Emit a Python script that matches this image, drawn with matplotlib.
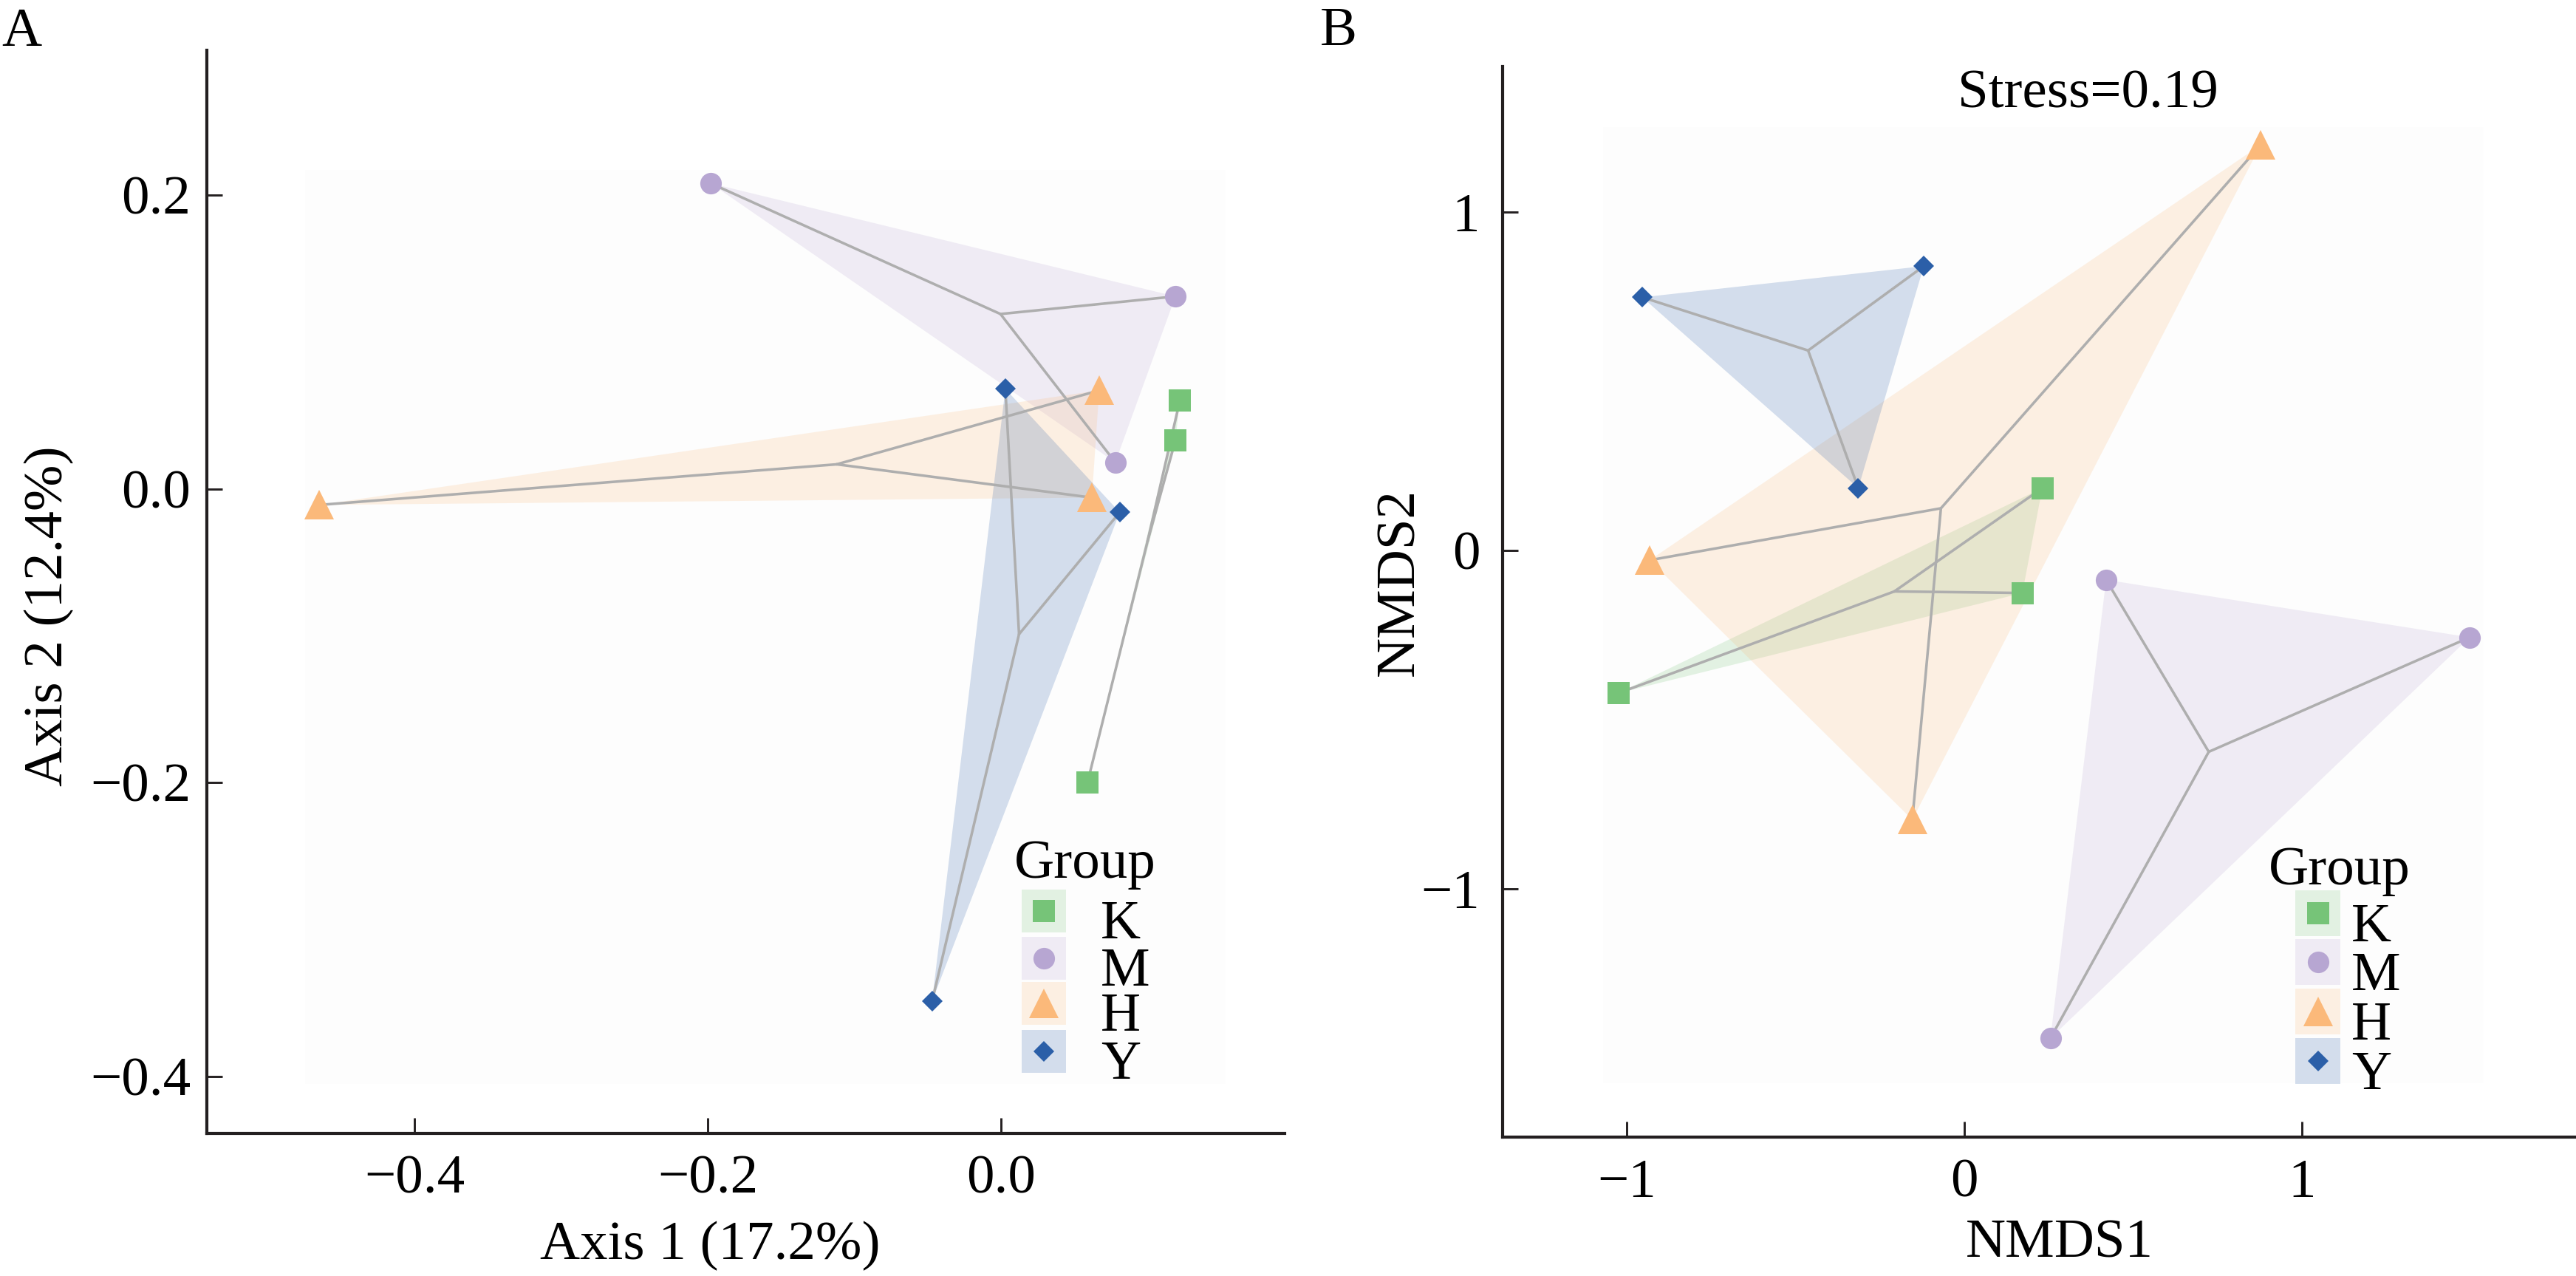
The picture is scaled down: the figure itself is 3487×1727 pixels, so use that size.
import numpy as np
import matplotlib
matplotlib.use('Agg')
import matplotlib.pyplot as plt
from matplotlib.lines import Line2D
from matplotlib.patches import Rectangle
from matplotlib.ticker import FuncFormatter

plt.rcParams['font.family'] = ['Liberation Serif', 'DejaVu Serif']
plt.rcParams['font.size'] = 18

W, H = 3487, 1727
DPI = 300

GROUPS = ['K', 'M', 'H', 'Y']
COLORS = {'K': '#76c478', 'M': '#b7a6d2', 'H': '#fbb97a', 'Y': '#2b5fa8'}
MARKERS = {'K': 's', 'M': 'o', 'H': '^', 'Y': 'D'}
MSIZE = {'K': 7.0, 'M': 7.0, 'H': 9.8, 'Y': 4.8}

# panel A: PCoA scores
pcoa_x = {'K': [0.122, 0.119, 0.059],
          'M': [-0.198, 0.119, 0.078],
          'H': [-0.465, 0.067, 0.062],
          'Y': [0.003, 0.081, -0.047]}
pcoa_y = {'K': [0.060, 0.033, -0.200],
          'M': [0.208, 0.131, 0.018],
          'H': [-0.011, 0.067, -0.006],
          'Y': [0.068, -0.016, -0.349]}

# panel B: NMDS scores
nmds_x = {'K': [0.231, 0.172, -1.025],
          'M': [0.420, 1.497, 0.255],
          'H': [0.878, -0.932, -0.154],
          'Y': [-0.954, -0.120, -0.314]}
nmds_y = {'K': [0.184, -0.126, -0.422],
          'M': [-0.087, -0.257, -1.442],
          'H': [1.198, -0.029, -0.796],
          'Y': [0.748, 0.840, 0.184]}

stress = 0.19


def fx(px):
    return px / W


def fy(py):
    return 1 - py / H


def minus_fmt(fmt):
    return FuncFormatter(lambda v, p: format(v, fmt).replace('-', '\u2212'))


def style_axes(ax, xlim, ylim, xticks, yticks, fmt, ypad):
    ax.set_xlim(*xlim)
    ax.set_ylim(*ylim)
    ax.set_facecolor('none')
    for s in ['top', 'right']:
        ax.spines[s].set_visible(False)
    for s in ['left', 'bottom']:
        ax.spines[s].set_linewidth(1.0)
        ax.spines[s].set_color('#231f20')
    ax.set_xticks(xticks)
    ax.set_yticks(yticks)
    ax.xaxis.set_major_formatter(minus_fmt(fmt))
    ax.yaxis.set_major_formatter(minus_fmt(fmt))
    ax.tick_params(direction='in', length=5, width=0.7, color='#231f20', labelsize=18)
    ax.tick_params(axis='x', pad=7)
    ax.tick_params(axis='y', pad=ypad)


def draw_groups(ax, xs, ys, panel):
    # very faint panel background
    ax.add_patch(Rectangle((panel[0], panel[2]), panel[1] - panel[0], panel[3] - panel[2],
                           facecolor='#fdfdfd', edgecolor='none', zorder=0))
    for g in GROUPS:
        x = np.array(xs[g])
        y = np.array(ys[g])
        ax.fill(x, y, color=COLORS[g], alpha=0.2, lw=0, zorder=1)
    for g in GROUPS:
        x = np.array(xs[g])
        y = np.array(ys[g])
        cx, cy = x.mean(), y.mean()
        for xi, yi in zip(x, y):
            ax.plot([cx, xi], [cy, yi], color='#aeaeae', lw=0.85, zorder=2,
                    solid_capstyle='round')
    for g in GROUPS:
        ax.plot(xs[g], ys[g], ls='none', marker=MARKERS[g], ms=MSIZE[g],
                color=COLORS[g], mec='none', zorder=3)


def draw_legend(fig, title_xy, box_x, box_w, box_h, rows, label_x, base_off):
    fig.text(fx(title_xy[0]), fy(title_xy[1]), 'Group', ha='left', va='baseline', fontsize=18)
    for g, cy in zip(GROUPS, rows):
        fig.add_artist(Rectangle((fx(box_x), fy(cy + box_h / 2)), box_w / W, box_h / H,
                                 transform=fig.transFigure, facecolor=COLORS[g],
                                 alpha=0.2, edgecolor='none'))
        fig.add_artist(Line2D([fx(box_x + box_w / 2)], [fy(cy)], transform=fig.transFigure,
                              ls='none', marker=MARKERS[g], ms=MSIZE[g], color=COLORS[g], mec='none'))
        fig.text(fx(label_x), fy(cy + base_off), g, ha='left', va='baseline', fontsize=18)


fig = plt.figure(figsize=(W / DPI, H / DPI), dpi=DPI)

# ---- panel A ----
axA = fig.add_axes([fx(280), fy(1534), (1739 - 280) / W, (1534 - 68) / H])
style_axes(axA, (-0.5416, 0.1935), (-0.4389, 0.2986),
           [-0.4, -0.2, 0.0], [-0.4, -0.2, 0.0, 0.2], '.1f', 5.3)
draw_groups(axA, pcoa_x, pcoa_y, (-0.4746, 0.1531, -0.405, 0.217))
axA.set_xlabel('Axis 1 (17.2%)', fontsize=18)
axA.set_ylabel('Axis 2 (12.4%)', fontsize=18)
axA.xaxis.set_label_coords(0.4668, -0.081)
axA.yaxis.set_label_coords((100 - 280) / 1459, (1534 - 834) / 1466)

# ---- panel B ----
axB = fig.add_axes([fx(2034), fy(1539), (3487 - 2034) / W, (1539 - 90) / H])
style_axes(axB, (-1.3676, 1.8118), (-1.734, 1.430),
           [-1, 0, 1], [-1, 0, 1], '.0f', 7.4)
draw_groups(axB, nmds_x, nmds_y, (-1.07, 1.538, -1.574, 1.251))
axB.set_xlabel('NMDS1', fontsize=18)
axB.set_ylabel('NMDS2', fontsize=18)
axB.xaxis.set_label_coords(0.519, -0.0766)
axB.yaxis.set_label_coords((1929 - 2034) / 1453, 0.518)
fig.text(fx(2826), fy(146), f'Stress={stress:.2f}', ha='center', va='baseline', fontsize=18)

# legends
draw_legend(fig, (1373, 1188), 1383, 60, 58, [1233, 1297, 1358, 1423], 1490, 37)
draw_legend(fig, (3071, 1197), 3107, 61, 62, [1236, 1302, 1369, 1436], 3183, 38)

# panel tags
fig.text(fx(2), fy(62), 'A', ha='left', va='baseline', fontsize=18)
fig.text(fx(1787), fy(61), 'B', ha='left', va='baseline', fontsize=18)

fig.savefig('out.png', dpi=DPI)
